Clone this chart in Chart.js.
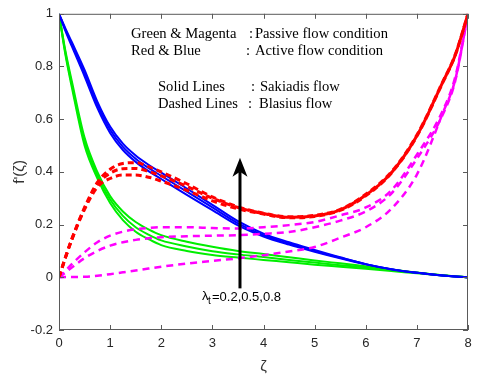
<!DOCTYPE html>
<html>
<head>
<meta charset="utf-8">
<script src="https://cdn.jsdelivr.net/npm/chart.js@4.4.0/dist/chart.umd.min.js"></script>
<style>
  body { margin: 0; background: #fff; }
  canvas { display: block; }
</style>
</head>
<body>
<canvas id="grafico" width="480" height="376"></canvas>
<script>
// abscissa (zeta) shared by all curves
const xs = [0, 0.125, 0.25, 0.5, 0.75, 1, 1.25, 1.5, 1.75, 2, 2.5, 3, 3.5, 4, 4.5, 5, 5.5, 6, 6.5, 7, 7.5, 7.75, 8];

// Active flow - Sakiadis (blue solid)
const blue1 = [1, 0.945, 0.893, 0.787, 0.667, 0.572, 0.507, 0.462, 0.427, 0.397, 0.337, 0.275, 0.213, 0.166, 0.133, 0.104, 0.076, 0.050, 0.031, 0.017, 0.007, 0.003, 0];
const blue2 = [1, 0.940, 0.885, 0.775, 0.655, 0.560, 0.495, 0.450, 0.415, 0.385, 0.325, 0.265, 0.205, 0.160, 0.128, 0.100, 0.074, 0.050, 0.031, 0.017, 0.007, 0.003, 0];
const blue3 = [1, 0.935, 0.877, 0.763, 0.643, 0.548, 0.483, 0.438, 0.403, 0.373, 0.313, 0.255, 0.197, 0.155, 0.124, 0.097, 0.072, 0.049, 0.030, 0.017, 0.007, 0.003, 0];

// Passive flow - Sakiadis (green solid)
const green1 = [1, 0.860, 0.745, 0.530, 0.400, 0.308, 0.250, 0.210, 0.182, 0.160, 0.135, 0.116, 0.100, 0.088, 0.076, 0.064, 0.053, 0.042, 0.030, 0.018, 0.008, 0.004, 0];
const green2 = [1, 0.852, 0.733, 0.515, 0.388, 0.295, 0.233, 0.190, 0.162, 0.140, 0.117, 0.099, 0.087, 0.077, 0.066, 0.056, 0.046, 0.037, 0.027, 0.017, 0.008, 0.004, 0];
const green3 = [1, 0.845, 0.722, 0.500, 0.376, 0.282, 0.217, 0.173, 0.145, 0.122, 0.100, 0.085, 0.075, 0.066, 0.057, 0.048, 0.040, 0.032, 0.024, 0.015, 0.007, 0.003, 0];

// Active flow - Blasius (red dashed)
const red1 = [0, 0.075, 0.145, 0.265, 0.360, 0.410, 0.432, 0.435, 0.420, 0.400, 0.355, 0.305, 0.268, 0.243, 0.230, 0.235, 0.258, 0.315, 0.400, 0.540, 0.740, 0.845, 1];
const red2 = [0, 0.075, 0.144, 0.262, 0.352, 0.395, 0.412, 0.413, 0.402, 0.385, 0.345, 0.300, 0.265, 0.242, 0.228, 0.233, 0.256, 0.312, 0.397, 0.537, 0.738, 0.843, 1];
const red3 = [0, 0.074, 0.142, 0.258, 0.342, 0.375, 0.388, 0.388, 0.380, 0.365, 0.330, 0.290, 0.260, 0.240, 0.226, 0.231, 0.254, 0.309, 0.395, 0.535, 0.736, 0.842, 1];

// Passive flow - Blasius (magenta dashed)
const mag1 = [0, 0.025, 0.050, 0.095, 0.133, 0.158, 0.173, 0.182, 0.187, 0.190, 0.190, 0.187, 0.185, 0.190, 0.198, 0.210, 0.235, 0.265, 0.330, 0.465, 0.630, 0.760, 1];
const mag2 = [0, 0.018, 0.037, 0.073, 0.100, 0.120, 0.133, 0.142, 0.148, 0.152, 0.156, 0.158, 0.160, 0.165, 0.172, 0.190, 0.215, 0.250, 0.318, 0.450, 0.615, 0.745, 1];
const mag3 = [0, 0.001, 0.001, 0.002, 0.006, 0.012, 0.019, 0.026, 0.033, 0.040, 0.052, 0.062, 0.072, 0.084, 0.098, 0.115, 0.150, 0.190, 0.260, 0.390, 0.620, 0.750, 1];

const xTicks = [0, 1, 2, 3, 4, 5, 6, 7, 8];
const yTicks = [-0.2, 0, 0.2, 0.4, 0.6, 0.8, 1];

function pontos(ys) {
    return xs.map((x, i) => ({ x: x, y: ys[i] }));
}

function serie(ys, cor, largura, tracejado) {
    return {
        data: pontos(ys),
        borderColor: cor,
        borderWidth: largura,
        borderDash: tracejado || [],
        pointRadius: 0,
        fill: false,
        cubicInterpolationMode: 'monotone'
    };
}

// moldura, ticks internos, seta e textos
const moldura = {
    id: 'moldura',
    afterDraw(chart) {
        const ctx = chart.ctx;
        const a = chart.chartArea;
        const sx = chart.scales.x, sy = chart.scales.y;
        ctx.save();
        ctx.strokeStyle = '#5a5a5a';
        ctx.lineWidth = 1;
        ctx.strokeRect(a.left + 0.5, a.top + 0.5, a.right - a.left - 1, a.bottom - a.top - 1);
        ctx.beginPath();
        xTicks.forEach(v => {
            const px = Math.round(sx.getPixelForValue(v)) + 0.5;
            ctx.moveTo(px, a.bottom); ctx.lineTo(px, a.bottom - 5);
            ctx.moveTo(px, a.top); ctx.lineTo(px, a.top + 5);
        });
        yTicks.forEach(v => {
            const py = Math.round(sy.getPixelForValue(v)) + 0.5;
            ctx.moveTo(a.left, py); ctx.lineTo(a.left + 5, py);
            ctx.moveTo(a.right, py); ctx.lineTo(a.right - 5, py);
        });
        ctx.stroke();

        // seta
        const ax = sx.getPixelForValue(3.54);
        const y0 = sy.getPixelForValue(-0.042);
        const y1 = sy.getPixelForValue(0.454);
        ctx.strokeStyle = '#000';
        ctx.fillStyle = '#000';
        ctx.lineWidth = 3;
        ctx.beginPath();
        ctx.moveTo(ax, y0); ctx.lineTo(ax, y1 + 14);
        ctx.stroke();
        ctx.beginPath();
        ctx.moveTo(ax, y1);
        ctx.lineTo(ax - 7.5, y1 + 19);
        ctx.lineTo(ax, y1 + 14);
        ctx.lineTo(ax + 7.5, y1 + 19);
        ctx.closePath();
        ctx.fill();

        // legenda em texto
        ctx.fillStyle = '#000';
        ctx.font = '14.6px "Liberation Serif", "Times New Roman", serif';
        ctx.textBaseline = 'middle';
        ctx.textAlign = 'left';
        ctx.fillText('Green & Magenta', 131, 34);
        ctx.fillText(':', 249, 34);
        ctx.fillText('Passive flow condition', 255, 34);
        ctx.fillText('Red & Blue', 131, 51);
        ctx.fillText(':', 246, 51);
        ctx.fillText('Active flow condition', 255, 51);
        ctx.fillText('Solid Lines', 158, 87);
        ctx.fillText(':', 251, 87);
        ctx.fillText('Sakiadis flow', 260, 87);
        ctx.fillText('Dashed Lines', 158, 104);
        ctx.fillText(':', 248, 104);
        ctx.fillText('Blasius flow', 259, 104);

        // lambda_t
        ctx.font = '13px "Liberation Sans", Arial, sans-serif';
        ctx.fillText('\u03bb', 202, 296);
        ctx.font = '10px "Liberation Sans", Arial, sans-serif';
        ctx.fillText('t', 208, 301);
        ctx.font = '13px "Liberation Sans", Arial, sans-serif';
        ctx.fillText('=0.2,0.5,0.8', 212, 297);
        ctx.restore();
    }
};

new Chart(document.getElementById('grafico').getContext('2d'), {
    type: 'line',
    data: {
        datasets: [
            serie(red1, '#ff0000', 3, [6, 4]),
            serie(red2, '#ff0000', 3, [6, 4]),
            serie(red3, '#ff0000', 3, [6, 4]),
            serie(mag1, '#ff00ff', 2.5, [7, 5]),
            serie(mag2, '#ff00ff', 2.5, [7, 5]),
            serie(mag3, '#ff00ff', 2.5, [7, 5]),
            serie(blue1, '#0000ff', 2),
            serie(blue2, '#0000ff', 2),
            serie(blue3, '#0000ff', 2),
            serie(green1, '#00ee00', 2),
            serie(green2, '#00ee00', 2),
            serie(green3, '#00ee00', 2)
        ]
    },
    options: {
        responsive: false,
        animation: false,
        layout: { padding: { top: 12, right: 12, left: 0, bottom: 0 } },
        plugins: { legend: { display: false }, tooltip: { enabled: false } },
        scales: {
            x: {
                type: 'linear',
                min: 0,
                max: 8,
                afterFit: s => { s.height = 46; },
                grid: { display: false, drawTicks: false },
                border: { display: false },
                ticks: {
                    stepSize: 1,
                    padding: 6,
                    color: '#262626',
                    font: { family: '"Liberation Sans", Arial, sans-serif', size: 13 }
                },
                title: {
                    display: true,
                    text: '\u03b6',
                    color: '#333',
                    padding: { top: 8, bottom: 0 },
                    font: { family: '"Liberation Sans", Arial, sans-serif', size: 15 }
                }
            },
            y: {
                min: -0.2,
                max: 1,
                afterFit: s => { s.width = 59; },
                afterBuildTicks: s => { s.ticks = yTicks.map(v => ({ value: v })); },
                grid: { display: false, drawTicks: false },
                border: { display: false },
                ticks: {
                    padding: 6,
                    color: '#262626',
                    font: { family: '"Liberation Sans", Arial, sans-serif', size: 13 },
                    callback: v => String(Math.round(v * 10) / 10)
                },
                title: {
                    display: true,
                    text: "f'(\u03b6)",
                    color: '#333',
                    padding: { top: 11, bottom: 0 },
                    font: { family: '"Liberation Sans", Arial, sans-serif', size: 15 }
                }
            }
        }
    },
    plugins: [moldura]
});
</script>
</body>
</html>
